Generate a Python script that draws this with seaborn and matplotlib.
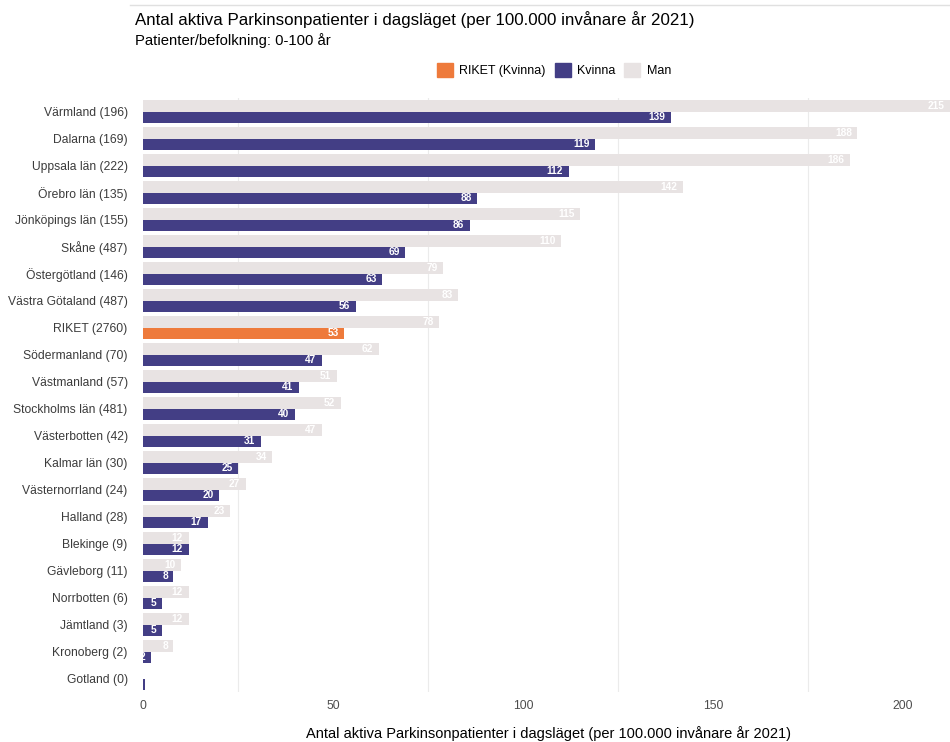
import numpy as np
import pandas as pd
import matplotlib.pyplot as plt
import seaborn as sns
from matplotlib.patches import Patch
from matplotlib.lines import Line2D

regions = ["Värmland (196)", "Dalarna (169)", "Uppsala län (222)", "Örebro län (135)",
           "Jönköpings län (155)", "Skåne (487)", "Östergötland (146)", "Västra Götaland (487)",
           "RIKET (2760)", "Södermanland (70)", "Västmanland (57)", "Stockholms län (481)",
           "Västerbotten (42)", "Kalmar län (30)", "Västernorrland (24)", "Halland (28)",
           "Blekinge (9)", "Gävleborg (11)", "Norrbotten (6)", "Jämtland (3)",
           "Kronoberg (2)", "Gotland (0)"]
kvinna = [139, 119, 112, 88, 86, 69, 63, 56, 53, 47, 41, 40, 31, 25, 20, 17, 12, 8, 5, 5, 2, 0.4]
man = [215, 188, 186, 142, 115, 110, 79, 83, 78, 62, 51, 52, 47, 34, 27, 23, 12, 10, 12, 12, 8, 0]

c_kvinna = "#433E85"
c_riket = "#EE7A3B"
c_man = "#E8E3E3"

df = pd.DataFrame({
    "region": regions * 2,
    "kon": ["Man"] * len(regions) + ["Kvinna"] * len(regions),
    "value": man + kvinna,
})

plt.rcParams["font.family"] = ["Liberation Sans", "DejaVu Sans"]
fig = plt.figure(figsize=(9.5, 7.42), dpi=100)
# axis runs out to the right edge of the figure
xmax = (950 - 143) / 3.8
ax = fig.add_axes([143 / 950, 50 / 742, 1 - 143 / 950, 594 / 742])

sns.barplot(data=df, y="region", x="value", hue="kon", hue_order=["Man", "Kvinna"],
            palette={"Man": c_man, "Kvinna": c_kvinna}, order=regions,
            width=0.84, legend=False, ax=ax, saturation=1)

# RIKET bar for women in orange
riket_i = regions.index("RIKET (2760)")
ax.containers[1][riket_i].set_facecolor(c_riket)

for cont, vals in zip(ax.containers, [man, kvinna]):
    for bar, v in zip(cont, vals):
        if v < 1:
            continue
        ax.annotate(f"{v:g}", (min(bar.get_width(), xmax), bar.get_y() + bar.get_height() / 2),
                    xytext=(-4, 0), textcoords="offset points", ha="right", va="center",
                    color="white", fontsize=7.3, fontweight="bold")

ax.set_xlim(0, xmax)
ax.set_xticks([0, 50, 100, 150, 200])
ax.set_xticks([25, 75, 125, 175], minor=True)
ax.grid(axis="x", which="minor", color="#EBEBEB", lw=0.8)
ax.set_axisbelow(True)
ax.tick_params(axis="both", which="both", length=0, labelsize=8.7, colors="#4D4D4D")
ax.tick_params(axis="y", pad=11)
ax.tick_params(axis="x", pad=6)
for lab in ax.get_yticklabels():
    lab.set_color("#3C3C3C")
for s in ax.spines.values():
    s.set_visible(False)
ax.set_ylabel("")
ax.set_xlabel("Antal aktiva Parkinsonpatienter i dagsläget (per 100.000 invånare år 2021)",
              fontsize=10.5, color="black")
ax.xaxis.set_label_coords((548 - 143) / (950 - 143), -34 / 594)

fig.text(135 / 950, 1 - 20 / 742, "Antal aktiva Parkinsonpatienter i dagsläget (per 100.000 invånare år 2021)",
         fontsize=12.2, va="center", ha="left")
fig.text(135 / 950, 1 - 41 / 742, "Patienter/befolkning: 0-100 år", fontsize=10.7, va="center", ha="left")
fig.add_artist(Line2D([130 / 950, 1], [1 - 5 / 742, 1 - 5 / 742], color="#E0E0E0", lw=1))

handles = [Patch(color=c_riket, label="RIKET (Kvinna)"),
           Patch(color=c_kvinna, label="Kvinna"),
           Patch(color=c_man, label="Man")]
fig.legend(handles=handles, loc="center", bbox_to_anchor=(554 / 950, 1 - 70 / 742), ncol=3,
           frameon=False, fontsize=9, handlelength=1.3, handleheight=1.3,
           handletextpad=0.5, columnspacing=0.7)

fig.savefig("out.png", dpi=100)
